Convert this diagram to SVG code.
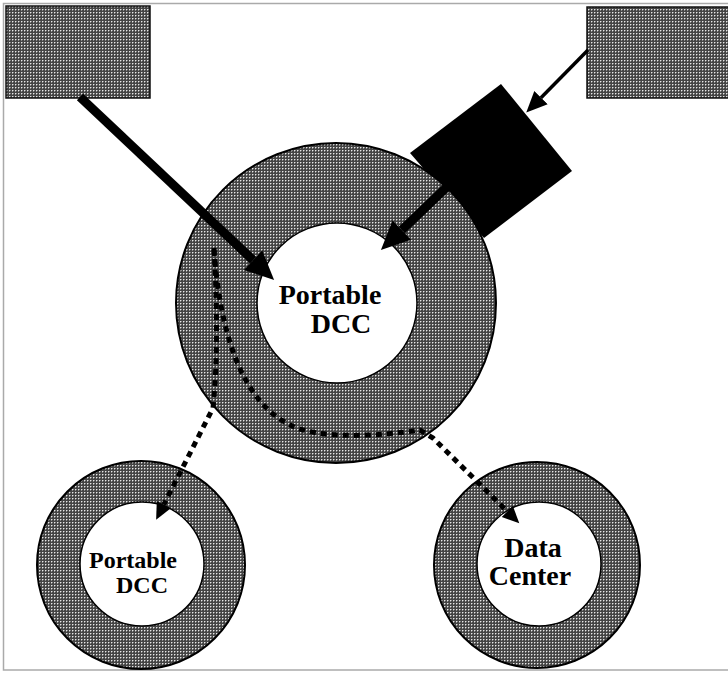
<svg xmlns="http://www.w3.org/2000/svg" width="728" height="673" viewBox="0 0 728 673">
  <defs>
    <pattern id="hatch" width="3" height="3" patternUnits="userSpaceOnUse">
      <rect width="3" height="3" fill="#444"/>
      <rect x="0" y="0" width="1" height="1" fill="#e6e6e6"/>
      <rect x="1" y="0" width="1" height="1" fill="#8a8a8a"/>
      <rect x="0" y="1" width="1" height="1" fill="#8a8a8a"/>
    </pattern>
    <marker id="headThick" markerUnits="userSpaceOnUse" markerWidth="30" markerHeight="30" viewBox="0 -13 27 26" refX="0" refY="0" orient="auto">
      <path d="M0,-12 L26,0 L0,12 z" fill="#000"/>
    </marker>
    <marker id="headThin" markerUnits="userSpaceOnUse" markerWidth="22" markerHeight="22" viewBox="0 -10 21 20" refX="0" refY="0" orient="auto">
      <path d="M0,-9 L20,0 L0,9 z" fill="#000"/>
    </marker>
    <marker id="headDot" markerUnits="userSpaceOnUse" markerWidth="18" markerHeight="18" viewBox="0 -8 16 16" refX="0" refY="0" orient="auto">
      <path d="M0,-7 L15,0 L0,7 z" fill="#000"/>
    </marker>
  </defs>
  <style>
    .box { fill: url(#hatch); stroke: #111; stroke-width: 1.5; }
    .ring { fill: url(#hatch); stroke: #000; stroke-width: 2; }
    .hole { fill: #fff; stroke: #000; stroke-width: 1.5; }
    .lbl { font-family: "Liberation Serif", "Times New Roman", serif; font-weight: bold; fill: #000; text-anchor: middle; }
    .thick { stroke: #000; stroke-width: 9; fill: none; }
    .thin { stroke: #000; stroke-width: 3.5; fill: none; }
    .dot { stroke: #000; stroke-width: 5; fill: none; stroke-dasharray: 6 5; }
  </style>

  <rect x="0" y="0" width="728" height="673" fill="#fff"/>
  <rect x="3.5" y="3.5" width="740" height="666.5" fill="none" stroke="#aaa" stroke-width="1.5"/>

  <g id="source-left">
    <rect class="box" x="6" y="6" width="144" height="92"/>
  </g>
  <g id="source-right">
    <rect class="box" x="587" y="7" width="150" height="91"/>
  </g>
  <g id="black-box">
    <polygon points="501,84 572,171 484,238 410,153" fill="#000"/>
  </g>
  <g id="portable-dcc-main">
    <circle class="ring" cx="336" cy="303" r="160"/>
    <circle class="hole" cx="337" cy="303" r="80"/>
    <text class="lbl" x="330" y="304" font-size="28">Portable</text>
    <text class="lbl" x="341" y="333" font-size="28">DCC</text>
  </g>
  <g id="portable-dcc-small">
    <circle class="ring" cx="141" cy="565" r="104"/>
    <circle class="hole" cx="142" cy="564" r="62"/>
    <text class="lbl" x="133" y="568" font-size="24">Portable</text>
    <text class="lbl" x="142" y="593" font-size="24">DCC</text>
  </g>
  <g id="data-center">
    <circle class="ring" cx="537" cy="565" r="103"/>
    <circle class="hole" cx="539" cy="564" r="62"/>
    <text class="lbl" x="533" y="557" font-size="28">Data</text>
    <text class="lbl" x="530" y="585" font-size="28">Center</text>
  </g>

  <g id="connectors">
    <line class="thick" x1="80" y1="97" x2="253.1" y2="260.2" marker-end="url(#headThick)"/>
    <line class="thick" x1="470" y1="165" x2="401.8" y2="230.1" marker-end="url(#headThick)"/>
    <line class="thin" x1="588" y1="50" x2="541" y2="97.7" marker-end="url(#headThin)"/>
    <path class="dot" d="M214,248 C217,300 218,360 213,408 L163.8,504.6" marker-end="url(#headDot)"/>
    <path class="dot" d="M214,250 C220,330 240,400 290,425 C320,440 380,436 420,430 L433,438 L507.3,511.5" marker-end="url(#headDot)"/>
  </g>
</svg>
